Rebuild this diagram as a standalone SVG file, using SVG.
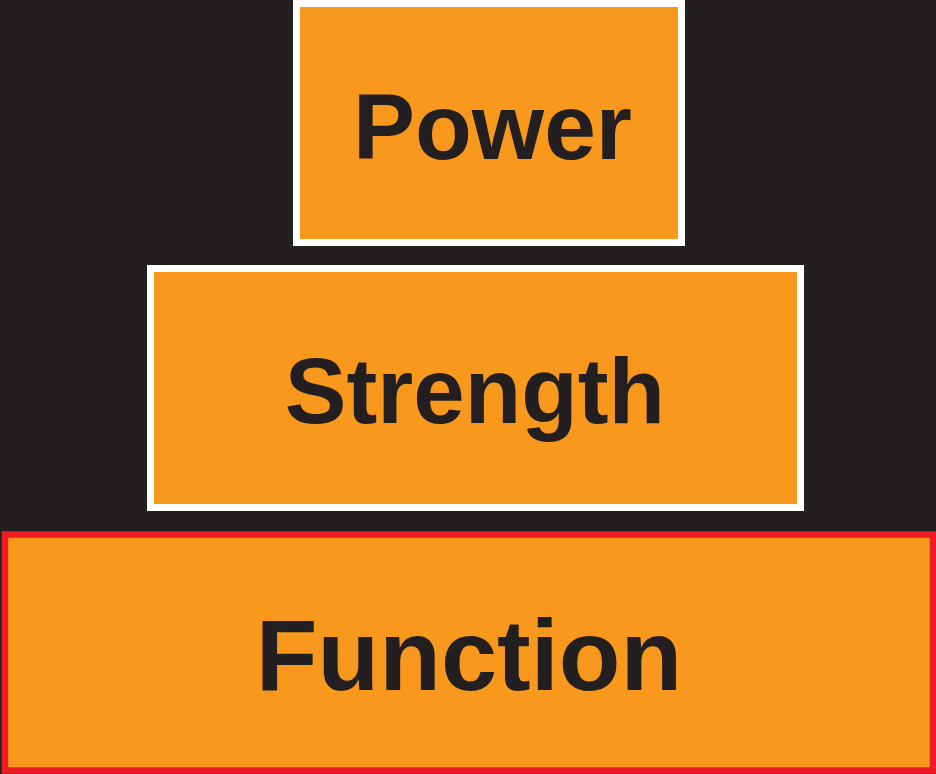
<svg xmlns="http://www.w3.org/2000/svg" width="936" height="774" viewBox="0 0 936 774">
  <style>
    .box { fill: #f8981d; stroke: #ffffff; stroke-width: 7; }
    .base { fill: #f8981d; stroke: #ed1c24; stroke-width: 6.5; }
    .label { font-family: "Liberation Sans", Arial, sans-serif; font-weight: bold; fill: #231f20; text-anchor: middle; }
  </style>
  <rect x="0" y="0" width="936" height="774" fill="#231f20"/>
  <g id="power">
    <rect class="box" x="296.5" y="3.5" width="385" height="239"/>
    <text class="label" x="492.5" y="159" font-size="93">Power</text>
  </g>
  <g id="strength">
    <rect class="box" x="150.5" y="268.5" width="650" height="239"/>
    <text class="label" x="475" y="423" font-size="92.5">Strength</text>
  </g>
  <g id="function">
    <rect class="base" x="5" y="534.5" width="928" height="236"/>
    <text class="label" x="469" y="690" font-size="101">Function</text>
  </g>
  <g id="connectors"/>
</svg>
